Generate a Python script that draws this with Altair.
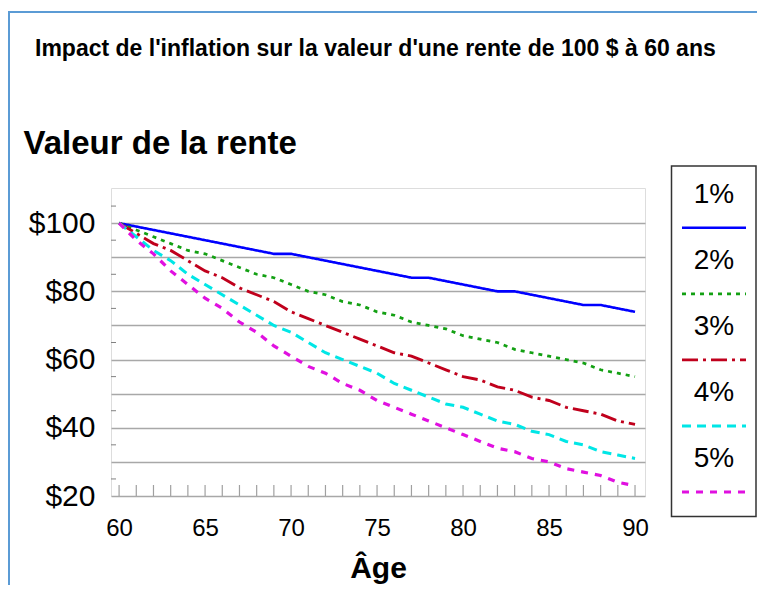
import altair as alt
import pandas as pd

# ---- data ----
ages = list(range(60, 91))
rates = ["1%", "2%", "3%", "4%", "5%"]
val_1 = [100, 99, 98, 97, 96, 95, 94, 93, 92, 91, 91, 90, 89, 88, 87, 86, 85, 84, 84, 83,
         82, 81, 80, 80, 79, 78, 77, 76, 76, 75, 74]
val_2 = [100, 98, 96, 94, 92, 91, 89, 87, 85, 84, 82, 80, 79, 77, 76, 74, 73, 71, 70, 69,
         67, 66, 65, 63, 62, 61, 60, 59, 57, 56, 55]
val_3 = [100, 97, 94, 92, 89, 86, 84, 81, 79, 77, 74, 72, 70, 68, 66, 64, 62, 61, 59, 57,
         55, 54, 52, 51, 49, 48, 46, 45, 44, 42, 41]
val_4 = [100, 96, 92, 89, 85, 82, 79, 76, 73, 70, 68, 65, 62, 60, 58, 56, 53, 51, 49, 47,
         46, 44, 42, 41, 39, 38, 36, 35, 33, 32, 31]
val_5 = [100, 95, 91, 86, 82, 78, 75, 71, 68, 64, 61, 58, 56, 53, 51, 48, 46, 44, 42, 40,
         38, 36, 34, 33, 31, 30, 28, 27, 26, 24, 23]
y_grid_values = [20, 30, 40, 50, 60, 70, 80, 90, 100]
y_minor_ticks = [25, 35, 45, 55, 65, 75, 85, 95, 105]
x_label_values = [60, 65, 70, 75, 80, 85, 90]

title_text = "Impact de l'inflation sur la valeur d'une rente de 100 $ à 60 ans"
y_title = "Valeur de la rente"
x_title = "Âge"

# ---- styles ----
colors = ["#0000ff", "#13a013", "#c0001c", "#00e6e6", "#e010e0"]
dashes = [[1, 0], [4, 5], [16, 5, 3, 5], [9, 6], [7, 7]]
widths = [2.6, 3.2, 3.8, 3.8, 3.8]
FONT = "Liberation Sans"

W, H = 534, 308
Y_DOMAIN = [20, 110.3]
X_DOMAIN = [59.53, 90.58]

series = [val_1, val_2, val_3, val_4, val_5]
lines_df = pd.DataFrame(
    [{"age": a, "value": v, "rate": r} for r, vals in zip(rates, series) for a, v in zip(ages, vals)]
)
legend_df = pd.DataFrame({"rate": rates})
years_df = pd.DataFrame({"age": ages})
minor_df = pd.DataFrame({"v": y_minor_ticks})
one_df = pd.DataFrame({"k": [0]})
title_df = pd.DataFrame({"t": [title_text]})

color_enc = alt.Color("rate:N", scale=alt.Scale(domain=rates, range=colors), legend=None)
dash_enc = alt.StrokeDash("rate:N", scale=alt.Scale(domain=rates, range=dashes), legend=None)
width_enc = alt.StrokeWidth("rate:N", scale=alt.Scale(domain=rates, range=widths), legend=None)

x_axis = alt.Axis(
    values=x_label_values, title=x_title, grid=False, ticks=False, domain=False,
    labelFontSize=24, labelFont=FONT, labelColor="black", labelPadding=20,
    titleFontSize=30, titleFont=FONT, titleFontWeight="bold", titleColor="black",
    titleBaseline="alphabetic", titleY=81, labelFlush=False,
)
x_scale = alt.Scale(domain=X_DOMAIN, nice=False, zero=False)

y_enc = alt.Y(
    "value:Q",
    scale=alt.Scale(domain=Y_DOMAIN, nice=False, zero=False),
    axis=alt.Axis(
        values=y_grid_values, labelExpr="datum.value % 20 == 0 ? '$' + datum.value : ''",
        grid=True, gridColor="#a8a8a8", gridWidth=1.5, ticks=False, domain=False,
        labelFontSize=30, labelFont=FONT, labelColor="black", labelPadding=16,
        title=y_title, titleAngle=0, titleAlign="left", titleBaseline="alphabetic",
        titleX=-88, titleY=-35, titleFontSize=33, titleFont=FONT, titleFontWeight="bold",
        titleColor="black",
    ),
)

lines = alt.Chart(lines_df).mark_line(strokeCap="butt").encode(
    x=alt.X("age:Q", scale=x_scale, axis=x_axis),
    y=y_enc, color=color_enc, strokeDash=dash_enc, strokeWidth=width_enc,
    detail="rate:N",
)

x_ticks = alt.Chart(years_df).mark_rule(color="#a0a0a0", strokeWidth=1.2).encode(
    x=alt.X("age:Q", scale=x_scale, axis=x_axis),
    y=alt.value(H), y2=alt.value(H - 11),
)

y_ticks = alt.Chart(minor_df).mark_rule(color="#808080", strokeWidth=1).encode(
    y=alt.Y("v:Q", scale=alt.Scale(domain=Y_DOMAIN, nice=False, zero=False), axis=None),
    x=alt.value(0), x2=alt.value(5),
)

legend_box = alt.Chart(one_df).mark_rect(fill="white", stroke="#333333", strokeWidth=1.5).encode(
    x=alt.value(560.5), x2=alt.value(645), y=alt.value(-22), y2=alt.value(328.5),
)

leg_y = alt.Y("rate:N", scale=alt.Scale(type="point", domain=rates, range=[39.7, 304], padding=0),
              axis=None)

legend_lines = alt.Chart(legend_df).mark_rule(strokeCap="butt").encode(
    y=leg_y, x=alt.value(571), x2=alt.value(635),
    color=color_enc, strokeDash=dash_enc, strokeWidth=width_enc,
)

legend_text = alt.Chart(legend_df).mark_text(
    fontSize=28, font=FONT, color="black", dy=-33, align="center", baseline="middle"
).encode(y=leg_y, x=alt.value(603), text="rate:N")

title_mark = alt.Chart(title_df).mark_text(
    fontSize=23, font=FONT, fontWeight="bold", color="black", align="left", baseline="alphabetic"
).encode(x=alt.value(-76), y=alt.value(-132), text="t:N")

border_top = alt.Chart(one_df).mark_rule(color="#5b9bd5", strokeWidth=2).encode(
    x=alt.value(-103), x2=alt.value(654), y=alt.value(-176),
)
border_left = alt.Chart(one_df).mark_rule(color="#5b9bd5", strokeWidth=2).encode(
    x=alt.value(-102), y=alt.value(-177), y2=alt.value(420),
)

chart = alt.layer(
    border_top, border_left, title_mark, x_ticks, y_ticks, lines,
    legend_box, legend_lines, legend_text
).resolve_scale(y="independent").properties(
    width=W, height=H,
    autosize=alt.AutoSizeParams(type="none"),
    padding={"left": 103, "top": 180, "right": 112, "bottom": 89},
).configure_view(stroke="#555555", strokeWidth=2).configure(background="white")

chart.save("out.html", embed_options={"renderer": "svg", "actions": False})
